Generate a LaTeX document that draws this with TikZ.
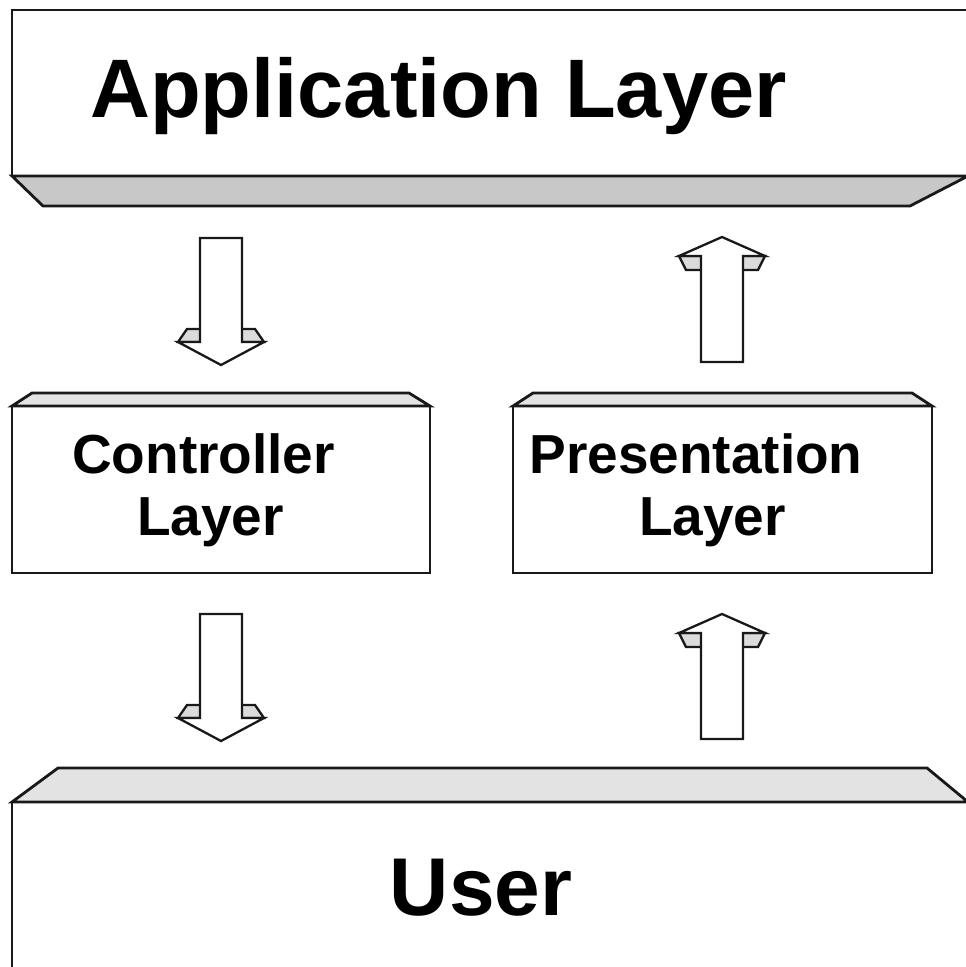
\documentclass[tikz,border=0pt]{standalone}
\usepackage{fontspec}
\setmainfont{Liberation Sans}
\usetikzlibrary{calc}

\tikzset{
  front/.style={draw=black!90, line width=2.8pt, fill=white, inner sep=0pt, outer sep=0pt},
  topface/.style={draw=black!90, line width=2.8pt, fill=gray!22},
  underface/.style={draw=black!90, line width=2.8pt, fill=gray!43},
  bevel/.style={draw=black!90, line width=2.3pt, fill=gray!28},
  arrowbody/.style={draw=black!90, line width=2.3pt, fill=white},
  bigtext/.style={font=\fontsize{83}{90}\selectfont\bfseries, anchor=base, inner sep=0pt},
  midtext/.style={font=\fontsize{55}{60}\selectfont\bfseries, anchor=base, inner sep=0pt},
  % hollow block arrow pointing down, origin at the top centre of the shaft
  downarrow/.pic={
    \filldraw[bevel] (-34,91) -- (34,91) -- (43,104) -- (-43,104) -- cycle;
    \filldraw[arrowbody] (-21,0) -- (21,0) -- (21,104) -- (43,104) -- (0,127)
      -- (-43,104) -- (-21,104) -- cycle;
  },
  % hollow block arrow pointing up, origin at the tip
  uparrow/.pic={
    \filldraw[bevel] (-43,19) -- (43,19) -- (36,33) -- (-36,33) -- cycle;
    \filldraw[arrowbody] (0,0) -- (43,19) -- (21,19) -- (21,125) -- (-21,125)
      -- (-21,19) -- (-43,19) -- cycle;
  }
}

\begin{document}
\begin{tikzpicture}[x=1pt, y=-1pt]
  \useasboundingbox (0,0) rectangle (966,967);
  \clip (0,0) rectangle (966,967);
  \fill[white] (0,0) rectangle (966,967);

  % application layer slab with its underside
  \node[front, minimum width=956pt, minimum height=166pt] (app) at (490,93) {};
  \filldraw[underface] (app.south west) -- (app.south east) -- ++(-58,30)
    -- ($(app.south west)+(31,30)$) -- cycle;
  \node[bigtext] (apptext) at (438.5,117) {Application Layer};

  % controller layer block
  \node[front, minimum width=418pt, minimum height=167pt] (ctrl) at (221,489.5) {};
  \filldraw[topface] (ctrl.north west) -- ++(20,-13)
    -- ($(ctrl.north east)+(-21,-13)$) -- (ctrl.north east) -- cycle;
  \node[midtext] (ctrltext1) at (203.5,473) {Controller};
  \node[midtext] (ctrltext2) at (210.5,535) {Layer};

  % presentation layer block
  \node[front, minimum width=419pt, minimum height=167pt] (pres) at (722.5,489.5) {};
  \filldraw[topface] (pres.north west) -- ++(20,-13)
    -- ($(pres.north east)+(-20,-13)$) -- (pres.north east) -- cycle;
  \node[midtext] (prestext1) at (696,473) {Presentation};
  \node[midtext] (prestext2) at (712.5,535) {Layer};

  % user slab with its top face
  \node[front, minimum width=956pt, minimum height=183pt] (user) at (490,893.5) {};
  \filldraw[topface] (user.north west) -- ++(46,-34)
    -- ($(user.north east)+(-41,-34)$) -- (user.north east) -- cycle;
  \node[bigtext, font=\fontsize{82}{90}\selectfont\bfseries] (usertext) at (481,915) {User};

  % flow arrows between the layers
  \path ($(ctrl.north)+(0,-168)$) pic {downarrow};
  \path ($(ctrl.south)+(0,41)$) pic {downarrow};
  \path ($(pres.north)+(-0.5,-169)$) pic {uparrow};
  \path ($(pres.south)+(-0.5,41)$) pic {uparrow};
\end{tikzpicture}
\end{document}
